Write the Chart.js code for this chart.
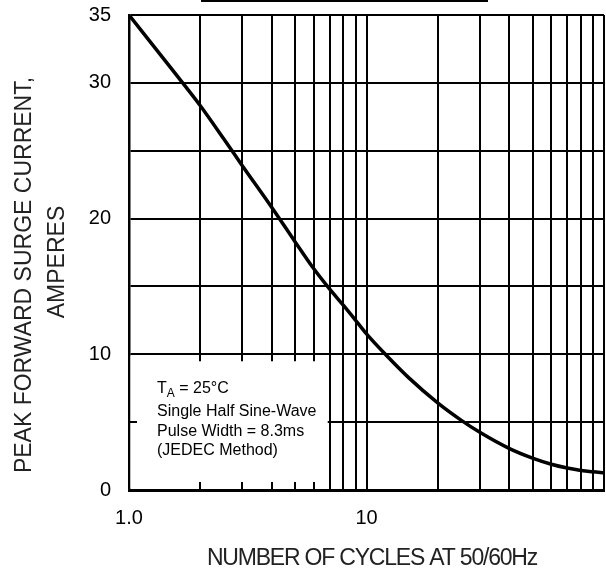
<!DOCTYPE html>
<html>
<head>
<meta charset="utf-8">
<script src="https://cdn.jsdelivr.net/npm/chart.js@4/dist/chart.umd.min.js"></script>
<style>
  html,body{margin:0;padding:0;background:#fff;}
  #wrap{width:606px;height:574px;}
</style>
</head>
<body>
<div id="wrap"><canvas id="surge" width="606" height="574"></canvas></div>
<script>
// values
const cycles     = [1, 1.5, 2, 2.5, 3, 4, 5, 6, 7, 8, 9, 10, 12, 15, 20, 25, 30, 40, 50, 60, 70, 80, 90, 100];
const surgeAmps  = [35, 31.1, 28.3, 25.9, 23.9, 20.8, 18.3, 16.3, 14.8, 13.6, 12.5, 11.5, 10.0, 8.3, 6.4, 5.15, 4.25, 3.05, 2.35, 1.9, 1.62, 1.44, 1.34, 1.27];

// axis grid / labels
const xGridValues = [1,2,3,4,5,6,7,8,9,10,20,30,40,50,60,70,80,90,100];
const xTickLabels = {1:'1.0', 10:'10'};
const yTickLabels = [0,10,20,30,35];
const boxTickValues = [2,3,4,5,6];   // small ticks left where the note box hides the grid

const yTitle = ['PEAK FORWARD SURGE CURRENT,', 'AMPERES'];
const xTitle = 'NUMBER OF CYCLES AT 50/60Hz';
const noteLines = ['Single Half Sine-Wave', 'Pulse Width = 8.3ms', '(JEDEC Method)'];

const FONT = '"Liberation Sans", Arial, Helvetica, sans-serif';
Chart.defaults.font.family = FONT;
Chart.defaults.color = '#000';

function noPad(s){ s.paddingTop = 0; s.paddingBottom = 0; s.paddingLeft = 0; s.paddingRight = 0; }

// white note box in the lower left plus titles
const notePlugin = {
  id: 'note',
  beforeDatasetsDraw(chart){
    const {ctx, chartArea:a, scales:{x, y}} = chart;
    const top = y.getPixelForValue(10), bot = y.getPixelForValue(0);
    const right = x.getPixelForValue(7) - 2;
    ctx.save();
    ctx.fillStyle = '#fff';
    ctx.fillRect(a.left + 1.5, top + 1.5, right - a.left - 1.5, bot - top - 3);
    ctx.strokeStyle = '#000';
    ctx.lineWidth = 2;
    ctx.beginPath();
    boxTickValues.forEach(v=>{
      const px = Math.round(x.getPixelForValue(v));
      ctx.moveTo(px, top); ctx.lineTo(px, top + 7);
      ctx.moveTo(px, bot); ctx.lineTo(px, bot - 8);
    });
    const y5 = Math.round(y.getPixelForValue(5));
    ctx.moveTo(a.left, y5); ctx.lineTo(a.left + 8, y5);
    ctx.stroke();

    // note text
    ctx.fillStyle = '#000';
    ctx.textBaseline = 'alphabetic';
    ctx.textAlign = 'left';
    const tx = a.left + 28;
    ctx.font = '16px ' + FONT;
    ctx.fillText('T', tx, top + 39);
    const tw = ctx.measureText('T').width;
    ctx.font = '12px ' + FONT;
    ctx.fillText('A', tx + tw, top + 43);
    const aw = ctx.measureText('A').width;
    ctx.font = '16px ' + FONT;
    ctx.fillText(' = 25\u00B0C', tx + tw + aw, top + 39);
    noteLines.forEach((s,i)=> ctx.fillText(s, tx, top + 62 + i*19.3));
    ctx.restore();
  },
  afterDraw(chart){
    const {ctx} = chart;
    ctx.save();
    // cut-off title underline at the very top
    ctx.fillStyle = '#000';
    ctx.fillRect(201, 0, 287, 2);

    ctx.fillStyle = '#222';
    ctx.textAlign = 'center';
    ctx.textBaseline = 'middle';
    ctx.font = '23px ' + FONT;
    [[25, 275], [58, 262]].forEach((p,i)=>{
      ctx.save();
      ctx.translate(p[0], p[1]);
      ctx.rotate(-Math.PI/2);
      ctx.fillText(yTitle[i], 0, 0);
      ctx.restore();
    });
    ctx.textBaseline = 'alphabetic';
    if('letterSpacing' in ctx) ctx.letterSpacing = '-1.2px';
    ctx.fillText(xTitle, 372, 565);
    ctx.restore();
  }
};

new Chart(document.getElementById('surge'), {
  type: 'line',
  data: {
    datasets: [{
      data: cycles.map((c,i)=>({x:c, y:surgeAmps[i]})),
      borderColor: '#000',
      borderWidth: 3.5,
      pointRadius: 0,
      fill: false,
      cubicInterpolationMode: 'monotone'
    }]
  },
  options: {
    responsive: false,
    animation: false,
    layout: {padding: {top: 15, right: 2, left: 0, bottom: 0}},
    plugins: {legend: {display: false}, tooltip: {enabled: false}},
    scales: {
      x: {
        type: 'logarithmic',
        min: 1, max: 100,
        afterBuildTicks: s => { s.ticks = xGridValues.map(v=>({value:v})); },
        afterFit: s => { s.height = 84; noPad(s); },
        grid: {color: '#000', lineWidth: 2, drawTicks: false, tickLength: 0},
        border: {color: '#000', width: 3},
        ticks: {
          autoSkip: false, maxRotation: 0, padding: 16,
          font: {size: 20},
          callback: v => xTickLabels[v] || ''
        }
      },
      y: {
        min: 0, max: 35,
        afterFit: s => { s.width = 129; noPad(s); },
        grid: {color: '#000', lineWidth: 2, drawTicks: false, tickLength: 0},
        border: {color: '#000', width: 2.5},
        ticks: {
          stepSize: 5, padding: 18,
          font: {size: 20},
          callback: v => yTickLabels.includes(v) ? String(v) : ''
        }
      }
    }
  },
  plugins: [notePlugin]
});
</script>
</body>
</html>
